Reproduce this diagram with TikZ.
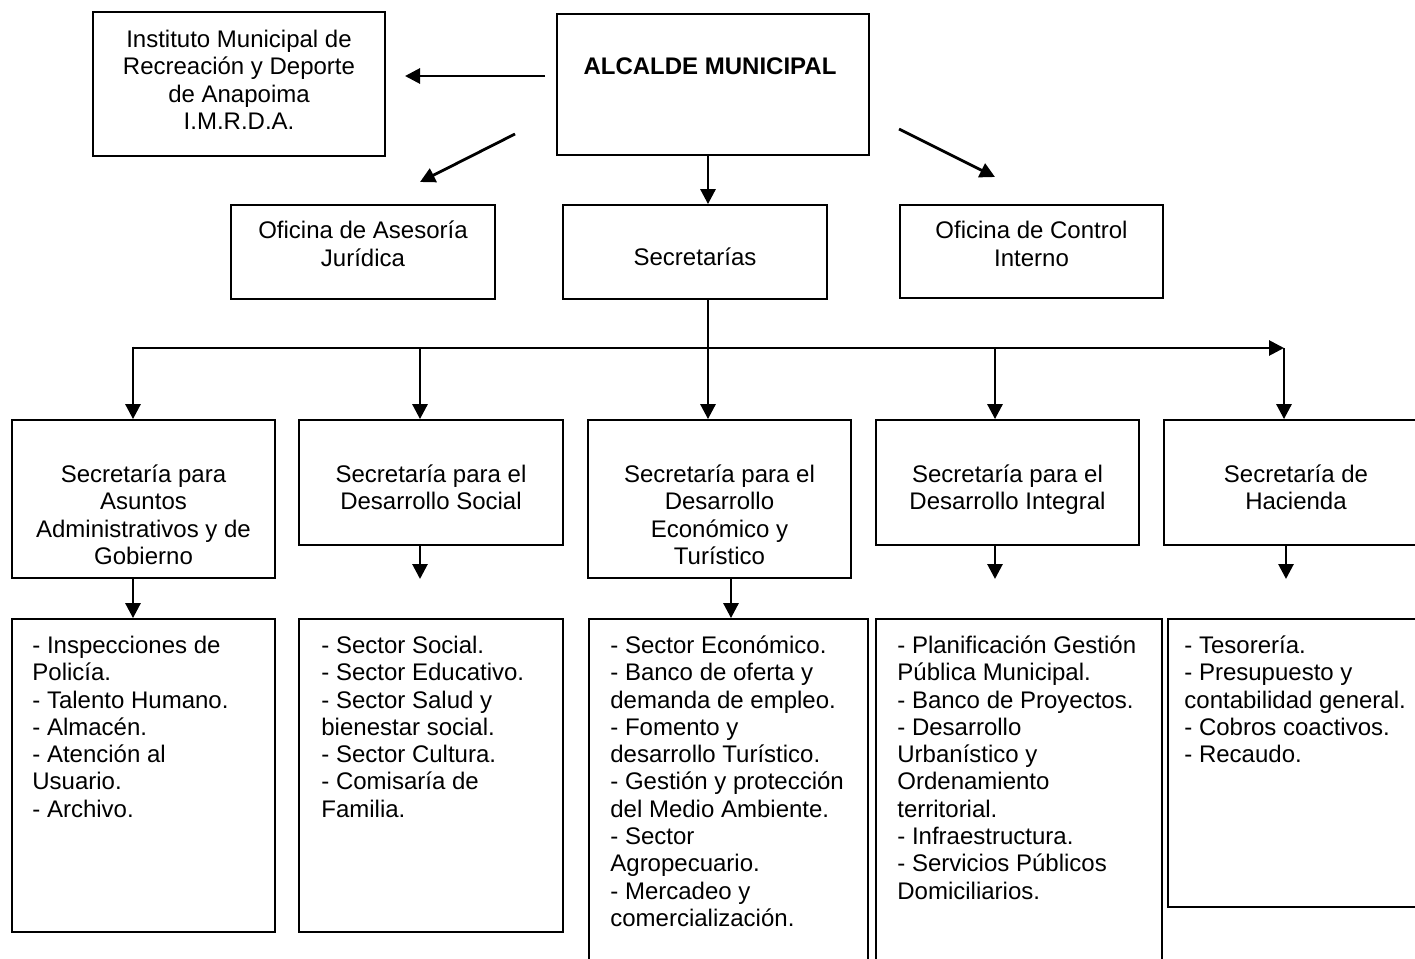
\documentclass[tikz,border=0pt]{standalone}
\usepackage{fontspec}
\setmainfont{Liberation Sans}
\usetikzlibrary{arrows.meta,fit}
\newcommand\dgfs{\fontsize{12}{13.65}\selectfont}
\begin{document}
\begin{tikzpicture}[x=0.5pt,y=-0.5pt,
  box/.style={draw,line width=0.9pt,inner sep=0pt},
  arr/.style={line width=1.4pt,-{Triangle[length=7.5pt,width=7.5pt]}},
  ctext/.style={align=center,anchor=north,inner sep=0pt,font=\dgfs},
  ltext/.style={align=left,anchor=north west,inner sep=0pt,font=\dgfs}]
\useasboundingbox (0,0) rectangle (1415,959);
\fill[white] (0,0) rectangle (1415,959);
\clip (0,0) rectangle (1415,959);

% top level
\node[box,fit={(93,12) (385,156)}] (imr) {};
\node[ctext] (imrt) at (239,27.9) {\strut Instituto Municipal de\\Recreación y Deporte\\de Anapoima\\I.M.R.D.A.};
\node[box,fit={(557,14) (869,155)}] (alc) {};
\node[ctext] (alct) at (710,54.9) {\bfseries\strut ALCALDE MUNICIPAL};

\node[box,fit={(231,205) (495,299)}] (ase) {};
\node[ctext] (aset) at (363,219.4) {\strut Oficina de Asesoría\\Jurídica};
\node[box,fit={(563,205) (827,299)}] (secs) {};
\node[ctext] (secst) at (695,245.9) {\strut Secretarías};
\node[box,fit={(900,205) (1163,298)}] (ci) {};
\node[ctext] (cit) at (1031.5,219.4) {\strut Oficina de Control\\Interno};

% secretarias
\node[box,fit={(12,420) (275,578)}] (b1) {};
\node[ctext] (b1t) at (143.5,462.9) {\strut Secretaría para\\Asuntos\\Administrativos y de\\Gobierno};
\node[box,fit={(299,420) (563,545)}] (b2) {};
\node[ctext] (b2t) at (431,462.9) {\strut Secretaría para el\\Desarrollo Social};
\node[box,fit={(588,420) (851,578)}] (b3) {};
\node[ctext] (b3t) at (719.5,462.9) {\strut Secretaría para el\\Desarrollo\\Económico y\\Turístico};
\node[box,fit={(876,420) (1139,545)}] (b4) {};
\node[ctext] (b4t) at (1007.5,462.9) {\strut Secretaría para el\\Desarrollo Integral};
\node[box,fit={(1164,420) (1428,545)}] (b5) {};
\node[ctext] (b5t) at (1296,462.9) {\strut Secretaría de\\Hacienda};

% dependencias
\node[box,fit={(12,619) (275,932)}] (c1) {};
\node[ltext] (c1t) at (32,633.9) {\strut - Inspecciones de\\Policía.\\- Talento Humano.\\- Almacén.\\- Atención al\\Usuario.\\- Archivo.};
\node[box,fit={(299,619) (563,932)}] (c2) {};
\node[ltext] (c2t) at (321,633.9) {\strut - Sector Social.\\- Sector Educativo.\\- Sector Salud y\\bienestar social.\\- Sector Cultura.\\- Comisaría de\\Familia.};
\node[box,fit={(589,619) (868,975)}] (c3) {};
\node[ltext] (c3t) at (610,633.9) {\strut - Sector Económico.\\- Banco de oferta y\\demanda de empleo.\\- Fomento y\\desarrollo Turístico.\\- Gestión y protección\\del Medio Ambiente.\\- Sector\\Agropecuario.\\- Mercadeo y\\comercialización.};
\node[box,fit={(876,619) (1162,975)}] (c4) {};
\node[ltext] (c4t) at (897,633.9) {\strut - Planificación Gestión\\Pública Municipal.\\- Banco de Proyectos.\\- Desarrollo\\Urbanístico y\\Ordenamiento\\territorial.\\- Infraestructura.\\- Servicios Públicos\\Domiciliarios.};
\node[box,fit={(1168,619) (1430,907)}] (c5) {};
\node[ltext] (c5t) at (1184,633.9) {\strut - Tesorería.\\- Presupuesto y\\contabilidad general.\\- Cobros coactivos.\\- Recaudo.};

% free arrow ends
\coordinate (h0) at (545,76);
\coordinate (h1) at (405,76);
\coordinate (dl0) at (515,134);
\coordinate (dl1) at (420,182);
\coordinate (dr0) at (899,129);
\coordinate (dr1) at (995,177);
\coordinate (j) at (708,348);
\coordinate (d1) at (133,348);
\coordinate (d2) at (420,348);
\coordinate (d4) at (995,348);
\coordinate (d5) at (1284,348);
\coordinate (e2) at (420,579);
\coordinate (x3) at (731,600);
\coordinate (e4) at (995,579);
\coordinate (e5) at (1286,579);

\draw[arr] (h0) -- (h1);
\draw[arr] (dl0) -- (dl1);
\draw[arr] (dr0) -- (dr1);
\draw[arr] (alc.south -| j) -- (secs.north -| j);
\draw[arr] (secs.south -| j) -- (b3.north -| j);
\draw[arr] (d1) -- (d5);
\draw[arr,shorten <=-0.7pt] (d1) -- (b1.north -| d1);
\draw[arr] (d2) -- (b2.north -| d2);
\draw[arr] (d4) -- (b4.north -| d4);
\draw[arr] (d5) -- (b5.north -| d5);

\draw[arr] (b1.south -| d1) -- (c1.north -| d1);
\draw[arr] (b2.south -| e2) -- (e2);
\draw[arr] (b3.south -| x3) -- (c3.north -| x3);
\draw[arr] (b4.south -| e4) -- (e4);
\draw[arr] (b5.south -| e5) -- (e5);
\end{tikzpicture}
\end{document}
